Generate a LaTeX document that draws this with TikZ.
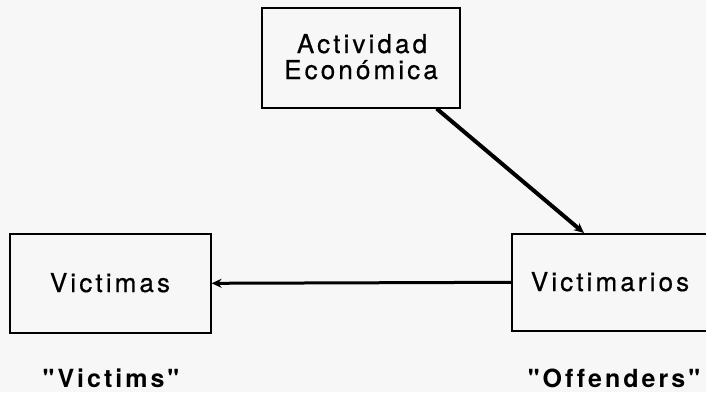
\documentclass[tikz,border=0pt]{standalone}
\usepackage{fontspec}
\setmainfont{TeX Gyre Heros}[LetterSpace=12,Ligatures=NoCommon]
\newfontfamily\boxface{TeX Gyre Heros}[LetterSpace=12,FakeBold=0.6,Ligatures=NoCommon]
\newfontfamily\labface{TeX Gyre Heros}[LetterSpace=12,BoldFont={* Bold},Ligatures=NoCommon]
\usetikzlibrary{calc,arrows.meta}
\begin{document}
\begin{tikzpicture}[x=1pt,y=-1pt,
  boxnode/.style={draw=black,line width=1.6pt,minimum width=#1,anchor=north west,inner sep=0pt},
  txt/.style={font=\boxface\fontsize{26}{26}\selectfont,text=black,anchor=base,inner sep=0pt},
  labtxt/.style={font=\labface\bfseries\fontsize{25}{28}\selectfont,text=black,anchor=base,inner sep=0pt},
  conn/.style={line width=3pt,-{Stealth[length=10pt,width=9pt]}}]
\fill[black!3] (0,0) rectangle (706,392);
\useasboundingbox (0,0) rectangle (706,392);
\clip (0,0) rectangle (706,392);
\node[boxnode=198pt,minimum height=100pt] (act) at (261,7) {};
\node[txt] (actt1) at (362,53) {Actividad};
\node[txt] (actt2) at (361,79) {Económica};
\node[boxnode=201pt,minimum height=99pt] (vi) at (9,233) {};
\node[txt] (vit) at (110,292) {Victimas};
\node[boxnode=200pt,minimum height=97pt] (vm) at (511,233) {};
\node[txt] (vmt) at (610,291) {Victimarios};
\node[labtxt] (l1) at (111,387) {"Victims"};
\node[labtxt] (l2) at (614,387) {"Offenders"};
\draw[conn,line width=4pt] ($(act.south west)!0.88!(act.south east)$) -- ([xshift=73pt]vm.north west);
\draw[conn] (vm.west) -- (vi.east);
\end{tikzpicture}
\end{document}
